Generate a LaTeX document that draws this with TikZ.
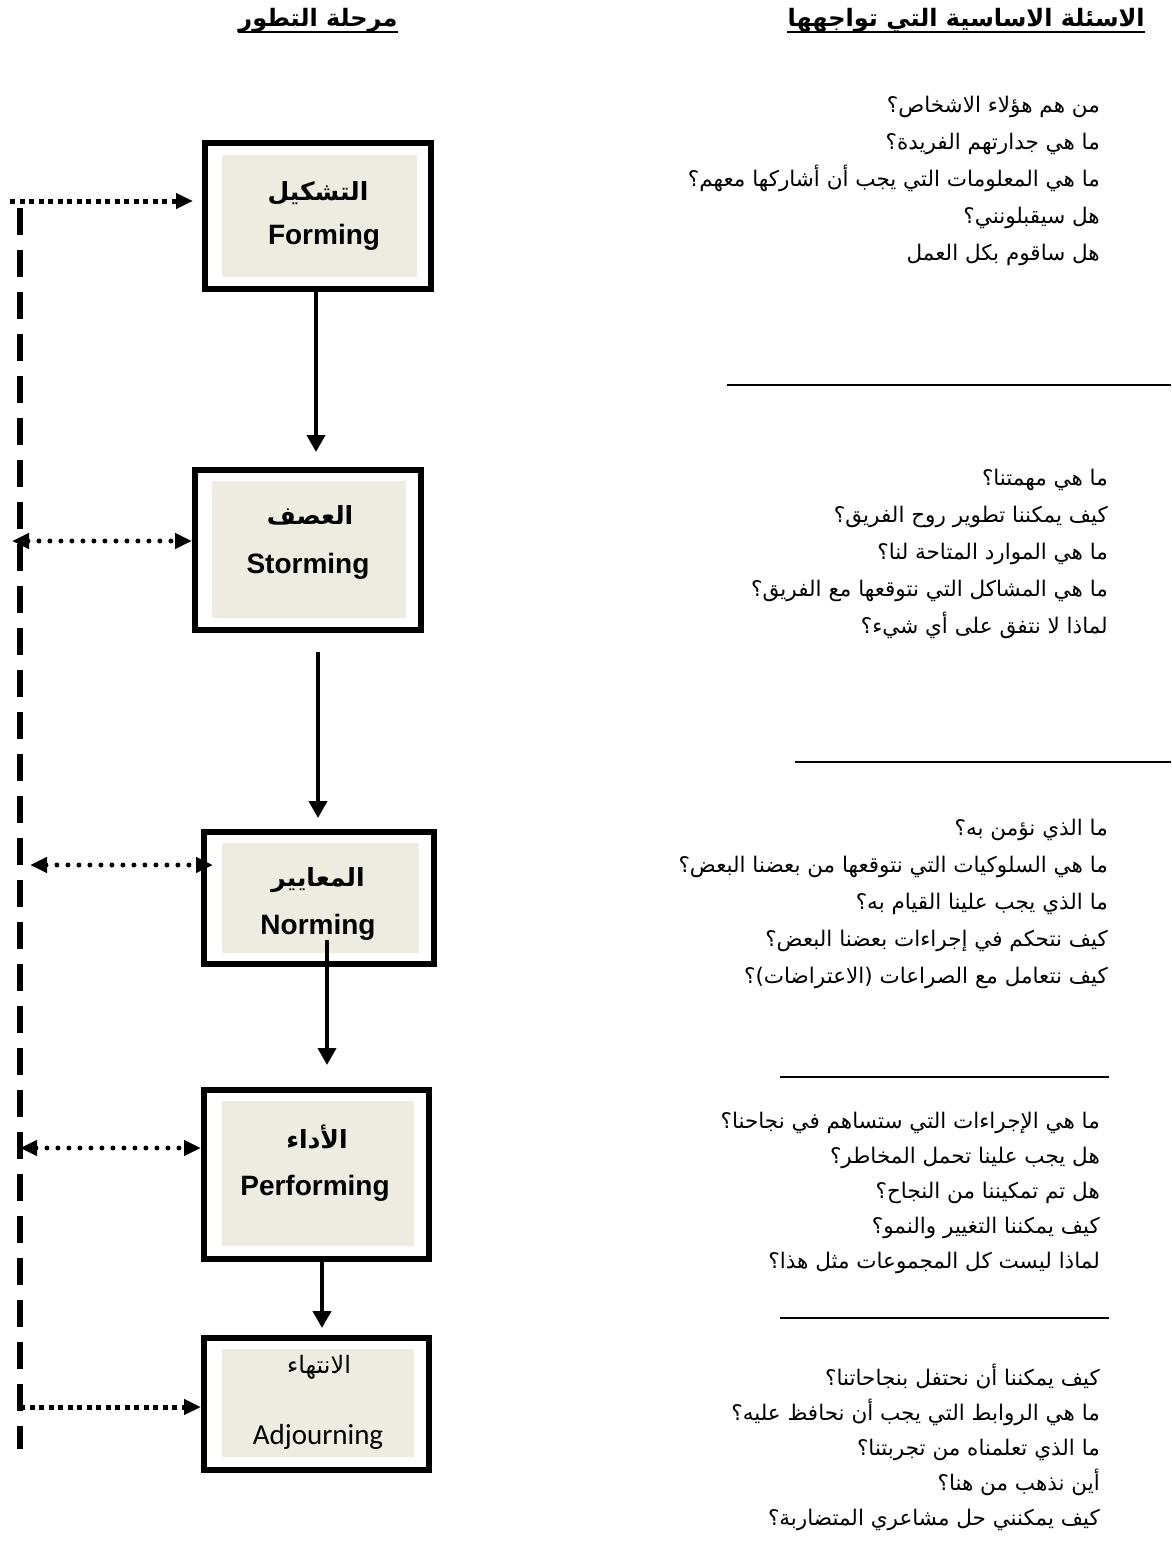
\documentclass[tikz,border=0pt]{standalone}
\usepackage{fontspec}
\setmainfont{Liberation Sans}
\newfontfamily\arabicfont[Script=Arabic]{DejaVu Sans}
\newfontfamily\calibrifont{Carlito}
\usetikzlibrary{arrows.meta,positioning}
\TeXXeTstate=1
\definecolor{stagebg}{RGB}{238,236,225}
\newcommand{\rl}[1]{\beginR #1\endR}

\begin{document}
\begin{tikzpicture}[x=1pt, y=-1pt,
    stageframe/.style={draw, line width=6pt, inner sep=0pt},
    stagefill/.style={fill=stagebg, inner sep=0pt},
    arlabel/.style={inner sep=0pt, font=\arabicfont\bfseries\fontsize{25}{30}\selectfont},
    enlabel/.style={inner sep=0pt, font=\bfseries\fontsize{28}{34}\selectfont},
    header/.style={inner sep=0pt, font=\arabicfont\bfseries\fontsize{24}{28}\selectfont},
    question/.style={anchor=east, align=right, inner sep=0pt, font=\arabicfont\fontsize{21.5}{37}\selectfont},
    flow/.style={-{Triangle[length=17pt,width=18pt]}, line width=4pt},
    loopline/.style={line width=6pt, dash pattern=on 27pt off 15pt},
    sqdots/.style={line width=5pt, dash pattern=on 5pt off 4.5pt},
    rddots/.style={line width=5pt, line cap=round, dash pattern=on 0pt off 11pt},
    rule/.style={line width=2pt}
  ]
    \useasboundingbox (0,0) rectangle (1171,1552);

    % --- Column headers ---
    \node[header, anchor=base] (stagehead) at (318,27) {\rl{مرحلة التطور}};
    \node[header, anchor=base east] (qhead) at (1145,27) {\rl{الاسئلة الاساسية التي تواجهها}};
    \draw[line width=2.5pt] ([yshift=-5pt]stagehead.base west) -- ([yshift=-5pt]stagehead.base east);
    \draw[line width=2.5pt] ([yshift=-5pt]qhead.base west) -- ([yshift=-5pt]qhead.base east);

    % --- Stage boxes ---
    \node[stageframe, minimum width=226pt, minimum height=146pt] (form) at (318,216) {};
    \node[stagefill, minimum width=195pt, minimum height=122pt] (formbg) at (319.5,216) {};
    \node[arlabel] (formar) at (318,193) {\rl{التشكيل}};
    \node[enlabel] (formen) at (324,237) {Forming};

    \node[stageframe, minimum width=226pt, minimum height=160pt] (storm) at (308,550) {};
    \node[stagefill, minimum width=194pt, minimum height=137pt] (stormbg) at (309,549.5) {};
    \node[arlabel] (stormar) at (310,515) {\rl{العصف}};
    \node[enlabel] (stormen) at (308,566) {Storming};

    \node[stageframe, minimum width=230pt, minimum height=132pt] (norm) at (319,898) {};
    \node[stagefill, minimum width=197pt, minimum height=110pt] (normbg) at (320.5,898) {};
    \node[arlabel] (normar) at (318,880) {\rl{المعايير}};
    \node[enlabel] (normen) at (318,927) {Norming};

    \node[stageframe, minimum width=225pt, minimum height=169pt] (perf) at (316.5,1174.5) {};
    \node[stagefill, minimum width=192pt, minimum height=145pt] (perfbg) at (318,1173.5) {};
    \node[arlabel] (perfar) at (317,1137) {\rl{الأداء}};
    \node[enlabel] (perfen) at (315,1188) {Performing};

    \node[stageframe, minimum width=225pt, minimum height=132pt] (adj) at (316.5,1404) {};
    \node[stagefill, minimum width=192pt, minimum height=108pt] (adjbg) at (318,1403) {};
    \node[inner sep=0pt, font=\arabicfont\fontsize{24}{28}\selectfont] (adjar) at (319,1367) {\rl{الانتهاء}};
    \node[inner sep=0pt, font=\calibrifont\fontsize{29}{34}\selectfont] (adjen) at (318,1437) {Adjourning};

    % --- Flow between stages ---
    \draw[flow, shorten >=15pt] ([xshift=-2pt]form.south) -- ([xshift=-2pt]form.south |- storm.north);
    \draw[flow, shorten <=19pt, shorten >=11pt] ([xshift=10pt]storm.south) -- ([xshift=10pt]storm.south |- norm.north);
    \draw[flow, shorten <=-27pt, shorten >=22pt] ([xshift=8pt]norm.south) -- ([xshift=8pt]norm.south |- perf.north);
    \draw[flow, shorten >=7pt] ([xshift=5.5pt]perf.south) -- ([xshift=5.5pt]perf.south |- adj.north);

    % --- Feedback line on the left ---
    \coordinate (fbtop) at (20,208);
    \coordinate (fbbot) at (20,1449);
    \draw[loopline] (fbtop) -- (fbbot);

    \coordinate (l1) at (10,201);
    \coordinate (l2) at (12,541);
    \coordinate (l3) at (30,865);
    \coordinate (l4) at (20,1148);
    \coordinate (l5) at (20,1407);
    \draw[sqdots, -{Triangle[length=17pt,width=15pt]}, shorten >=9pt] (l1) -- (l1 -| form.west);
    \draw[rddots, {Triangle[length=17pt,width=15pt]}-{Triangle[length=17pt,width=15pt]}] (l2) -- (l2 -| storm.west);
    \draw[rddots, {Triangle[length=17pt,width=15pt]}-{Triangle[length=17pt,width=15pt]}, shorten >=-12pt] (l3) -- (l3 -| norm.west);
    \draw[rddots, {Triangle[length=17pt,width=15pt]}-{Triangle[length=17pt,width=15pt]}] (l4) -- (l4 -| perf.west);
    \draw[sqdots, -{Triangle[length=17pt,width=15pt]}] (l5) -- (l5 -| adj.west);

    % --- Questions for each stage ---
    \node[question] (qform) at (1100,181) {%
      \rl{من هم هؤلاء الاشخاص؟}\\
      \rl{ما هي جدارتهم الفريدة؟}\\
      \rl{ما هي المعلومات التي يجب أن أشاركها معهم؟}\\
      \rl{هل سيقبلونني؟}\\
      \rl{هل ساقوم بكل العمل}};
    \draw[rule] (727,385) -- (1171,385);

    \node[question] (qstorm) at (1108,554) {%
      \rl{ما هي مهمتنا؟}\\
      \rl{كيف يمكننا تطوير روح الفريق؟}\\
      \rl{ما هي الموارد المتاحة لنا؟}\\
      \rl{ما هي المشاكل التي نتوقعها مع الفريق؟}\\
      \rl{لماذا لا نتفق على أي شيء؟}};
    \draw[rule] (795,762) -- (1171,762);

    \node[question] (qnorm) at (1108,904) {%
      \rl{ما الذي نؤمن به؟}\\
      \rl{ما هي السلوكيات التي نتوقعها من بعضنا البعض؟}\\
      \rl{ما الذي يجب علينا القيام به؟}\\
      \rl{كيف نتحكم في إجراءات بعضنا البعض؟}\\
      \rl{كيف نتعامل مع الصراعات (الاعتراضات)؟}};
    \draw[rule] (780,1077) -- (1109,1077);

    \node[question, font=\arabicfont\fontsize{21.5}{35}\selectfont] (qperf) at (1100,1193) {%
      \rl{ما هي الإجراءات التي ستساهم في نجاحنا؟}\\
      \rl{هل يجب علينا تحمل المخاطر؟}\\
      \rl{هل تم تمكيننا من النجاح؟}\\
      \rl{كيف يمكننا التغيير والنمو؟}\\
      \rl{لماذا ليست كل المجموعات مثل هذا؟}};
    \draw[rule] (780,1318) -- (1109,1318);

    \node[question, font=\arabicfont\fontsize{21.5}{35}\selectfont] (qadj) at (1100,1447) {%
      \rl{كيف يمكننا أن نحتفل بنجاحاتنا؟}\\
      \rl{ما هي الروابط التي يجب أن نحافظ عليه؟}\\
      \rl{ما الذي تعلمناه من تجربتنا؟}\\
      \rl{أين نذهب من هنا؟}\\
      \rl{كيف يمكنني حل مشاعري المتضاربة؟}};

  \end{tikzpicture}
\end{document}
